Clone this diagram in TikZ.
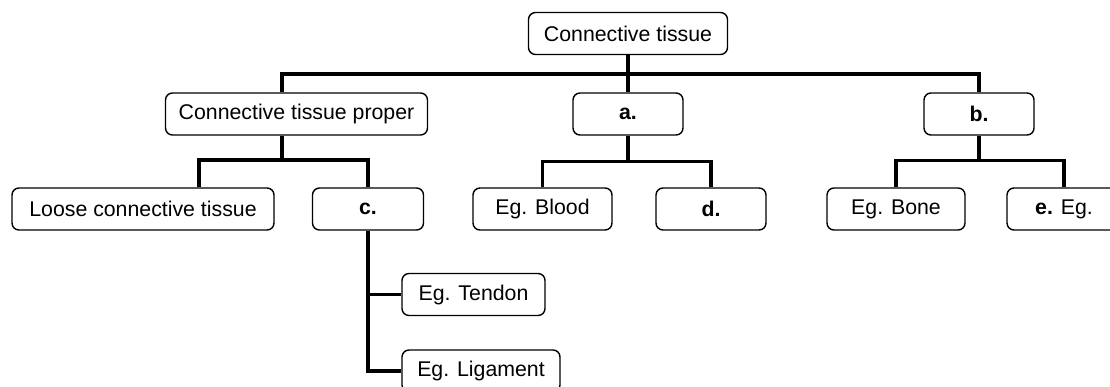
\documentclass[tikz,border=0pt]{standalone}
\usepackage{fontspec}
\setmainfont{Liberation Sans}
\usepackage{tikz}
\usetikzlibrary{positioning}

\begin{document}
\begin{tikzpicture}[
  x=1pt, y=-1pt,
  box/.style={rectangle, rounded corners=7pt, draw, line width=1.4pt,
              minimum height=42pt, minimum width=#1, inner sep=0pt,
              font=\fontsize{21.3}{25}\selectfont},
  box/.default=110pt,
  conn/.style={line width=3.3pt}
]
\clip (0,0) rectangle (1110,386);

%% -- Nodes -----------------------------------------------------
\node[box=199pt] (root)   at (628,33.5) {Connective tissue};

\node[box=262pt] (proper) at (296.5,114) {Connective tissue proper};
\node[box]       (grpa)   at (628,114)   {\textbf{a.}};
\node[box]       (grpb)   at (979,114)   {\textbf{b.}};

\node[box=262pt] (loose)  at (143,209)   {Loose connective tissue};
\node[box=111pt] (grpc)   at (368,209)   {\textbf{c.}};
\node[box=139pt] (blood)  at (542.5,209) {Eg. Blood};
\node[box]       (grpd)   at (711,209)   {\textbf{d.}};
\node[box=138pt] (bone)   at (896,209)   {Eg. Bone};
\node[box=114pt] (grpe)   at (1064,209)  {\textbf{e.} Eg.};

\node[box=143pt] (tendon)   at (473.5,294.5) {Eg. Tendon};
\node[box=158pt] (ligament) at (481,371)     {Eg. Ligament};

\coordinate (topbar)  at (628,74);
\coordinate (propbar) at (282,160);

%% -- Connectors ------------------------------------------------
\draw[conn] (root) -- (grpa);
\draw[conn] ([xshift=-14.5pt]proper.north) |- (topbar) -| (grpb.north);

\draw[conn] ([xshift=-14.5pt]proper.south) -- (propbar);
\draw[conn] ([xshift=56pt]loose.north) |- (propbar) -| (grpc.north);

\draw[conn] (grpa.south) -- ++(0,26) -| (blood.north);
\draw[conn] (grpa.south) ++(0,26) -| (grpd.north);

\draw[conn] (grpb.south) -- ++(0,25) -| (bone.north);
\draw[conn] (grpb.south) ++(0,25) -| (grpe.north);

\draw[conn] (grpc.south) |- (tendon.west);
\draw[conn] (grpc.south) |- (ligament.west);

\end{tikzpicture}
\end{document}
